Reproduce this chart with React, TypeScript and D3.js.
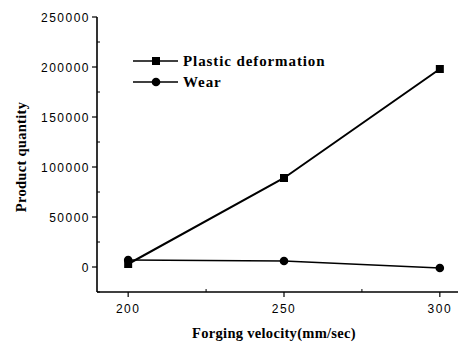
import React from "react";
import * as d3 from "d3";

const velocities = [200, 250, 300];
const plasticDeformation = [3000, 89000, 198000];
const wear = [7000, 6000, -1000];
const yTicks = [0, 50000, 100000, 150000, 200000, 250000];
const yMinorTicks = [-25000, 25000, 75000, 125000, 175000, 225000];
const xTicks = [200, 250, 300];
const xMinorTicks = [225, 275];
const seriesNames = ["Plastic deformation", "Wear"];

export default function App() {
  const W = 458, H = 344;
  const x = d3.scaleLinear().domain([190, 310]).range([97, 471]);
  const y = d3.scaleLinear().domain([-25000, 250000]).range([292, 17]);
  const line = d3.line<number>().x((_, i) => x(velocities[i])).y((d) => y(d));
  const serif = "'Liberation Serif', 'DejaVu Serif', serif";
  const sans = "'Liberation Sans', Arial, sans-serif";
  return (
    <svg width={W} height={H} style={{ position: "absolute", left: 0, top: 0 }}>
      <rect width={W} height={H} fill="#fff" />
      {/* axes */}
      <line x1={x(190)} x2={458} y1={y(-25000)} y2={y(-25000)} stroke="#000" strokeWidth={1.6} />
      <line x1={x(190)} x2={x(190)} y1={y(-25000)} y2={y(250000)} stroke="#000" strokeWidth={1.6} />
      {yTicks.map((t) => (
        <g key={t}>
          <line x1={x(190) - 5} x2={x(190)} y1={y(t)} y2={y(t)} stroke="#000" strokeWidth={1.2} />
          <text x={x(190) - 7} y={y(t) + 4.5} textAnchor="end" fontFamily={sans} fontSize={12} letterSpacing={1.5}>{t}</text>
        </g>
      ))}
      {yMinorTicks.map((t) => (
        <line key={t} x1={x(190)} x2={x(190) + 3} y1={y(t)} y2={y(t)} stroke="#000" strokeWidth={1} />
      ))}
      {xTicks.map((t) => (
        <g key={t}>
          <line x1={x(t)} x2={x(t)} y1={y(-25000)} y2={y(-25000) + 5} stroke="#000" strokeWidth={1.2} />
          <text x={x(t)} y={313} textAnchor="middle" fontFamily={sans} fontSize={12} letterSpacing={1.5}>{t}</text>
        </g>
      ))}
      {xMinorTicks.map((t) => (
        <line key={t} x1={x(t)} x2={x(t)} y1={y(-25000)} y2={y(-25000) - 3} stroke="#000" strokeWidth={1} />
      ))}
      {/* axis labels */}
      <text x={274} y={338} textAnchor="middle" fontFamily={serif} fontWeight="bold" fontSize={14.5} letterSpacing={0.3}>Forging velocity(mm/sec)</text>
      <text transform="translate(26,157) rotate(-90)" textAnchor="middle" fontFamily={serif} fontWeight="bold" fontSize={14.5} letterSpacing={0.3}>Product quantity</text>
      {/* series */}
      <path d={line(plasticDeformation) || ""} fill="none" stroke="#000" strokeWidth={2} />
      <path d={line(wear) || ""} fill="none" stroke="#000" strokeWidth={1.6} />
      {plasticDeformation.map((v, i) => (
        <rect key={i} x={x(velocities[i]) - 4} y={y(v) - 4} width={8} height={8} fill="#000" />
      ))}
      {wear.map((v, i) => (
        <circle key={i} cx={x(velocities[i])} cy={y(v)} r={4.3} fill="#000" />
      ))}
      {/* legend */}
      <line x1={133} x2={178} y1={61} y2={61} stroke="#000" strokeWidth={1.6} />
      <rect x={152} y={57} width={8} height={8} fill="#000" />
      <text x={183} y={66} fontFamily={serif} fontWeight="bold" fontSize={15} letterSpacing={0.9}>{seriesNames[0]}</text>
      <line x1={133} x2={178} y1={82} y2={82} stroke="#000" strokeWidth={1.6} />
      <circle cx={156} cy={82} r={4.3} fill="#000" />
      <text x={183} y={87} fontFamily={serif} fontWeight="bold" fontSize={15} letterSpacing={0.9}>{seriesNames[1]}</text>
    </svg>
  );
}
